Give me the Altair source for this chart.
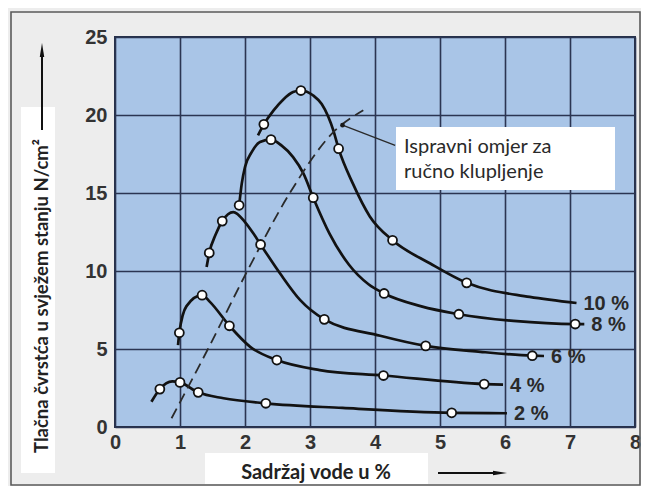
import altair as alt
import pandas as pd

# ---------------- data ----------------
x_ticks = [0, 1, 2, 3, 4, 5, 6, 7, 8]
y_ticks = [0, 5, 10, 15, 20, 25]

series_names = ["10 %", "8 %", "6 %", "4 %", "2 %"]

# traced curve paths (water content %, strength N/cm2)
c10_x = [2.20, 2.29, 2.44, 2.59, 2.74, 2.86, 3.05, 3.18, 3.28, 3.36, 3.44, 3.66, 3.92, 4.27, 4.85, 5.41, 6.38, 7.10]
c10_y = [18.7, 19.4, 20.3, 21.0, 21.47, 21.57, 21.25, 20.7, 19.9, 19.0, 17.84, 15.6, 13.5, 11.97, 10.48, 9.24, 8.34, 7.95]

c8_x = [1.91, 1.95, 2.00, 2.10, 2.23, 2.40, 2.56, 2.74, 2.90, 3.05, 3.30, 3.60, 3.90, 4.14, 4.70, 5.29, 6.13, 7.08, 7.22]
c8_y = [14.21, 15.6, 16.67, 17.6, 18.27, 18.42, 18.05, 17.3, 16.24, 14.7, 12.4, 10.4, 9.15, 8.56, 7.75, 7.23, 6.8, 6.6, 6.6]

c6_x = [1.41, 1.45, 1.55, 1.65, 1.82, 2.00, 2.13, 2.24, 2.54, 2.85, 3.22, 4.08, 4.78, 5.62, 6.42, 6.60]
c6_y = [10.26, 11.16, 12.35, 13.2, 13.78, 13.14, 12.4, 11.7, 9.84, 8.13, 6.9, 5.85, 5.2, 4.82, 4.57, 4.55]

c4_x = [0.97, 0.99, 1.10, 1.34, 1.46, 1.76, 2.08, 2.49, 3.15, 4.13, 5.68, 5.97]
c4_y = [5.25, 6.04, 7.75, 8.45, 8.02, 6.49, 5.14, 4.29, 3.65, 3.30, 2.75, 2.71]

c2_x = [0.56, 0.69, 0.88, 1.00, 1.28, 1.67, 2.32, 3.50, 5.18, 6.03]
c2_y = [1.62, 2.43, 2.92, 2.86, 2.22, 1.84, 1.52, 1.22, 0.91, 0.88]

# measured points (circles)
m10_x = [2.29, 2.86, 3.44, 4.27, 5.41]
m10_y = [19.4, 21.57, 17.84, 11.97, 9.24]
m8_x = [1.91, 2.40, 3.05, 4.14, 5.29, 7.08]
m8_y = [14.21, 18.42, 14.7, 8.56, 7.23, 6.6]
m6_x = [1.45, 1.65, 2.24, 3.22, 4.78, 6.42]
m6_y = [11.16, 13.2, 11.7, 6.9, 5.2, 4.57]
m4_x = [0.99, 1.34, 1.76, 2.49, 4.13, 5.68]
m4_y = [6.04, 8.45, 6.49, 4.29, 3.30, 2.75]
m2_x = [0.69, 1.00, 1.28, 2.32, 5.18]
m2_y = [2.43, 2.86, 2.22, 1.52, 0.91]

# dashed "correct ratio" curve
dash_x = [0.87, 1.43, 2.06, 2.69, 3.36, 3.82]
dash_y = [0.56, 5.0, 10.2, 15.0, 18.9, 20.3]

# leader line of the annotation
lead_x = [3.50, 4.31]
lead_y = [19.35, 18.05]

ann_lines = ["Ispravni omjer za", "ručno klupljenje"]
x_title = "Sadržaj vode u %"
y_title = "Tlačna čvrstća u svježem stanju N/cm²"

# ---------------- tables ----------------
curves = [(series_names[0], c10_x, c10_y), (series_names[1], c8_x, c8_y),
          (series_names[2], c6_x, c6_y), (series_names[3], c4_x, c4_y),
          (series_names[4], c2_x, c2_y)]
marks = [(series_names[0], m10_x, m10_y), (series_names[1], m8_x, m8_y),
         (series_names[2], m6_x, m6_y), (series_names[3], m4_x, m4_y),
         (series_names[4], m2_x, m2_y)]

line_rows, mark_rows, label_rows = [], [], []
for name, xs, ys in curves:
    for i, (a, b) in enumerate(zip(xs, ys)):
        line_rows.append({"series": name, "x": a, "y": b, "i": i})
    label_rows.append({"series": name, "x": xs[-1], "y": ys[-1]})
for name, xs, ys in marks:
    for a, b in zip(xs, ys):
        mark_rows.append({"series": name, "x": a, "y": b})

lines_df = pd.DataFrame(line_rows)
marks_df = pd.DataFrame(mark_rows)
labels_df = pd.DataFrame(label_rows)
dash_df = pd.DataFrame({"x": dash_x, "y": dash_y, "i": list(range(len(dash_x)))})
lead_df = pd.DataFrame({"x": lead_x, "y": lead_y, "i": [0, 1]})
one = pd.DataFrame({"d": [0]})

X = alt.X("x:Q", scale=alt.Scale(domain=[0, 8], nice=False, zero=False),
          axis=alt.Axis(values=x_ticks, title=None, labelPadding=5))
Y = alt.Y("y:Q", scale=alt.Scale(domain=[0, 25], nice=False, zero=False),
          axis=alt.Axis(values=y_ticks, title=None, labelPadding=8))

INK = "#121212"

curve_layer = alt.Chart(lines_df).mark_line(
    interpolate="monotone", color=INK, strokeWidth=2.7
).encode(x=X, y=Y, detail="series:N", order="i:Q")

dash_layer = alt.Chart(dash_df).mark_line(
    interpolate="monotone", color="#2a2a2a", strokeWidth=1.8, strokeDash=[11, 6]
).encode(x=X, y=Y, order="i:Q")

lead_layer = alt.Chart(lead_df).mark_line(color="#2a2a2a", strokeWidth=1.3).encode(
    x=X, y=Y, order="i:Q")
lead_dot = alt.Chart(lead_df.iloc[[0]]).mark_circle(color="#1a1a1a", size=22, opacity=1).encode(
    x=X, y=Y)

marker_layer = alt.Chart(marks_df).mark_point(
    shape="circle", filled=True, fill="white", stroke=INK, strokeWidth=1.8, size=80, opacity=1
).encode(x=X, y=Y)

label_layer = alt.Chart(labels_df).mark_text(
    align="left", baseline="middle", dx=7, dy=1, font="Liberation Sans", fontWeight="bold",
    fontSize=20, color="#2a2a2a"
).encode(x=X, y=Y, text="series:N")

# decorations (pixel positions relative to the plot area)
frame = alt.Chart(one).mark_rect(filled=False, stroke="#5a5a5a", strokeWidth=1.6).encode(
    x=alt.value(-104), x2=alt.value(525), y=alt.value(-25), y2=alt.value(448))
ybox = alt.Chart(one).mark_rect(color="white").encode(
    x=alt.value(-94), x2=alt.value(-60), y=alt.value(70), y2=alt.value(436))
xbox = alt.Chart(one).mark_rect(color="white").encode(
    x=alt.value(90), x2=alt.value(313), y=alt.value(416), y2=alt.value(447))
annbox = alt.Chart(one).mark_rect(color="white").encode(
    x=alt.value(281), x2=alt.value(500), y=alt.value(90), y2=alt.value(153))
ann1 = alt.Chart(one).mark_text(align="left", baseline="middle", font="Lato", fontSize=20,
                                color="#2a2a2a").encode(
    x=alt.value(289), y=alt.value(110), text=alt.value(ann_lines[0]))
ann2 = alt.Chart(one).mark_text(align="left", baseline="middle", font="Lato", fontSize=20,
                                color="#2a2a2a").encode(
    x=alt.value(289), y=alt.value(135), text=alt.value(ann_lines[1]))

xt = alt.Chart(one).mark_text(align="center", baseline="middle", font="Lato", fontWeight="bold",
                              fontSize=20, color="#222222").encode(
    x=alt.value(201), y=alt.value(436), text=alt.value(x_title))
yt = alt.Chart(one).mark_text(align="center", baseline="middle", font="Lato", fontWeight="bold",
                              fontSize=18.5, color="#222222", angle=270).encode(
    x=alt.value(-73), y=alt.value(259), text=alt.value(y_title))

xarrow = alt.Chart(one).mark_rule(color="#111111", strokeWidth=2).encode(
    x=alt.value(323), x2=alt.value(382), y=alt.value(436))
xhead = alt.Chart(one).mark_point(shape="M1,0L-1,0.32L-1,-0.32Z", filled=True, color="#111111",
                                  size=196, opacity=1).encode(x=alt.value(385), y=alt.value(436))
yarrow = alt.Chart(one).mark_rule(color="#111111", strokeWidth=2).encode(
    x=alt.value(-73), y=alt.value(93), y2=alt.value(15))
yhead = alt.Chart(one).mark_point(shape="M0,-1L0.32,1L-0.32,1Z", filled=True, color="#111111",
                                  size=196, opacity=1).encode(x=alt.value(-73), y=alt.value(13))

chart = alt.layer(
    frame, ybox, xbox, curve_layer, dash_layer, lead_layer, lead_dot, marker_layer,
    annbox, ann1, ann2, label_layer, xt, yt, xarrow, xhead, yarrow, yhead
).properties(
    width=520, height=390,
    padding={"left": 107, "top": 29, "right": 6, "bottom": 59},
    autosize=alt.AutoSizeParams(type="none"),
    background="#ededed",
).configure_view(
    fill="#a9c5e7", stroke="#26304a", strokeWidth=2
).configure_axis(
    grid=True, gridColor="#2b3552", gridWidth=1.6, gridOpacity=1,
    domain=False, ticks=False, labelFlush=False, labelOverlap=False,
    labelFont="Liberation Sans", labelFontSize=20, labelFontWeight="bold", labelColor="#333333"
)

chart.save("out.html", embed_options={"renderer": "svg", "actions": False})
